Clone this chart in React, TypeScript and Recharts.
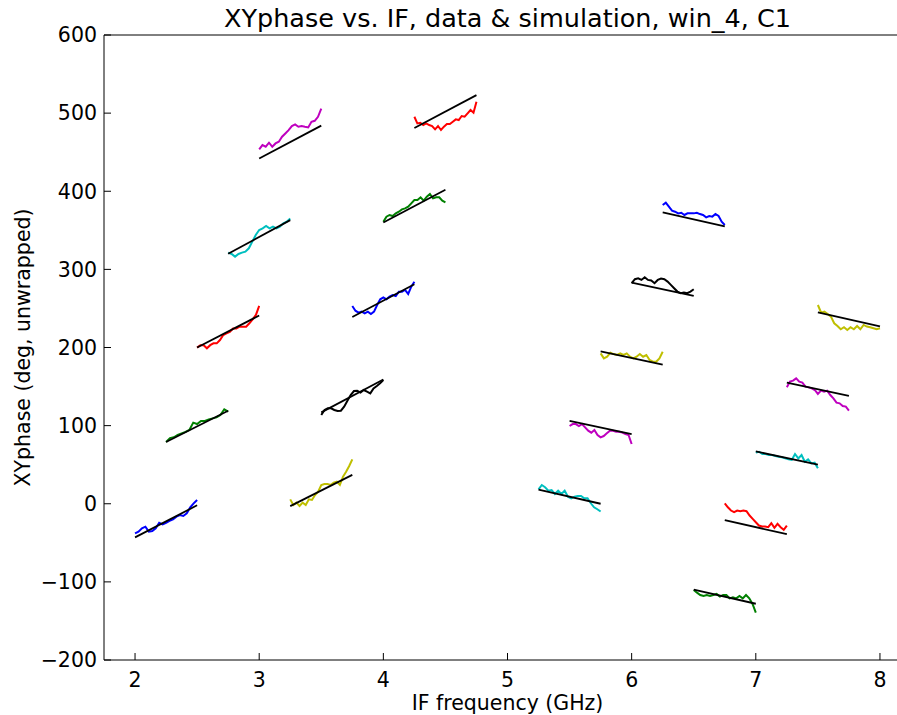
import React from "react";
import { LineChart, Line, XAxis, YAxis, Label } from "recharts";

// each segment spans 0.5 GHz starting here
const segStart = [2.0, 2.25, 2.5, 2.75, 3.0, 3.25, 3.5, 3.75, 4.0, 4.25, 5.25, 5.5, 5.75, 6.0, 6.25, 6.5, 6.75, 7.0, 7.25, 7.5];
const SPAN = 0.5;

// simulation (straight line) end values
const simStart = [-43, 79, 200, 320, 442, -3, 117, 239, 360, 481, 18, 106, 195, 283, 373, -110, -21, 67, 155, 245];
const simEnd = [-2, 119, 241, 363, 484, 37, 159, 281, 402, 523, 0, 89, 178, 266, 355, -128, -39, 50, 138, 227];

// measured XYphase per segment (deg)
const seg01 = [-38, -35.7, -31.5, -29.4, -35.7, -34.9, -31.5, -24.3, -26.4, -24.3, -22, -20, -16.5, -14.4, -15.7, -12.3, -4.6, 0.5, 4.8];
const seg02 = [79, 84, 85, 88, 90, 92, 94.4, 103.8, 102, 106, 106, 108, 109.3, 110.6, 113.6, 120.9, 118];
const seg03 = [199.8, 203, 203, 199, 203, 205.3, 205.3, 209.6, 216, 218, 220, 224.3, 224.3, 226.6, 226.6, 226.6, 231, 236, 241.7, 253.2];
const seg04 = [321.4, 319.7, 316.3, 319.7, 321.4, 322.7, 327, 335.5, 344, 350.4, 352.5, 355.5, 352.5, 354.6, 352.5, 354.6, 358.9, 361, 365.2];
const seg05 = [453.6, 459.1, 457, 462.1, 457, 461.2, 463.4, 469.8, 474, 478.3, 483.4, 485.5, 482.5, 483.4, 482.5, 481.7, 488.9, 490.2, 495.3, 505.9];
const seg06 = [5.6, -1.6, 1.4, -2.9, 1.4, -1.6, 5.6, 4.8, 11.2, 15.4, 24, 25.3, 25.3, 24, 27, 28.3, 24, 34.6, 41, 48.3, 56.8];
const seg07 = [113.6, 120, 122.1, 122.1, 120, 118.7, 119.1, 124.2, 131.9, 139.2, 144.3, 144.7, 142.2, 145.6, 143.5, 141.3, 147.7, 150.7, 154.1, 158.4];
const seg08 = [253.1, 247.1, 244.6, 245.9, 243.7, 245.9, 242.9, 245.9, 254.4, 261.7, 264.2, 261.7, 265.1, 267.2, 265.9, 271.4, 271.4, 273.6, 268.5, 277.8, 284.2];
const seg09 = [361, 367.4, 369.6, 368.3, 371.7, 373.8, 376.8, 378.1, 380.2, 384.5, 388.8, 388.8, 392.2, 387.9, 393, 396.5, 390.9, 392.2, 392.2, 387.9, 385.8];
const seg10 = [495.4, 486.9, 487.7, 484.8, 486.9, 484.8, 483.5, 479.3, 483.5, 478.4, 482.7, 486.1, 486.1, 489, 492, 491.1, 496.3, 495.4, 499.7, 504, 500.6, 514.6];
const seg11 = [18.5, 24, 21.1, 16.8, 17.6, 12.5, 16.8, 12.5, 16.8, 9.1, 7, 9.1, 10, 10, 7, 7, 0.6, -4.5, -7, -10];
const seg12 = [99.5, 102, 102, 99.5, 102, 97.8, 93.5, 91, 94.4, 88, 85, 86.7, 90.1, 93.5, 93.5, 92.2, 92.2, 91, 89.2, 88, 76.5];
const seg13 = [192.5, 186.1, 188.2, 193.3, 191.6, 190.4, 192.5, 190.4, 192.5, 188.2, 186.1, 188.2, 191.6, 188.2, 190.4, 184, 181.8, 181.8, 186.1, 194.6];
const seg14 = [282.3, 287.4, 288.6, 286.5, 289.9, 286.5, 285.7, 282.3, 286.5, 288.2, 287.4, 284.4, 280.2, 275.9, 271.6, 269.5, 270.4, 269.5, 271.6, 274.6];
const seg15 = [382.4, 385.4, 380.2, 375.1, 373.8, 371.7, 372.5, 369.6, 371.7, 371.7, 371.7, 372.5, 370.8, 369.6, 366.6, 368.3, 367.5, 370.8, 368.3, 361, 356.8];
const seg16 = [-110.4, -113.8, -116.8, -118.1, -116.8, -118.1, -116.8, -115.5, -118.9, -116.8, -116.8, -121.1, -119.8, -121.1, -118.1, -121.1, -116.8, -121.1, -128.3, -139.4];
const seg17 = [0.6, -4.5, -8.7, -10.8, -8.7, -9.6, -8.7, -9.6, -15.1, -19.4, -23.6, -27.9, -29.2, -29.2, -30, -24.9, -30.9, -25.8, -30, -33.4, -27.9];
const seg18 = [65.4, 66.6, 63.7, 63.7, 62.4, 62.4, 61.1, 60.2, 59.4, 58.1, 56.8, 56, 63.7, 58.1, 62.4, 53.8, 56.8, 51.7, 52.5, 45.3];
const seg19 = [149, 156.3, 157.6, 160.5, 156.3, 155, 149.9, 149, 147.7, 145.6, 140.5, 144.8, 143.5, 144.8, 139.2, 134.9, 129.4, 128.5, 125.1, 124.3, 119.2];
const seg20 = [254.4, 244.6, 245.9, 242.9, 239.5, 231, 227.6, 223.3, 225.9, 222.5, 225.9, 223.3, 227.6, 223.3, 228.9, 226.8, 225.9, 224.6, 223.3, 224.6];

const measured = [seg01, seg02, seg03, seg04, seg05, seg06, seg07, seg08, seg09, seg10,
  seg11, seg12, seg13, seg14, seg15, seg16, seg17, seg18, seg19, seg20];

// matplotlib classic color cycle
const colors = ["#0000ff", "#008000", "#ff0000", "#00bfbf", "#bf00bf", "#bfbf00", "#000000"];

const xTicks = [2, 3, 4, 5, 6, 7, 8];
const yTicks = [-200, -100, 0, 100, 200, 300, 400, 500, 600];

const FONT = "DejaVu Sans, sans-serif";
const fmtY = (v: number) => (v < 0 ? "\u2212" + Math.abs(v) : String(v));
const tickStyle = { fontSize: 20.5, fill: "#000", fontFamily: FONT };

export default function App() {
  const segments = segStart.map((s, i) => {
    const vals = measured[i];
    const data = vals.map((y, k) => ({ x: s + (SPAN * k) / (vals.length - 1), y }));
    const sim = [
      { x: s, y: simStart[i] },
      { x: s + SPAN, y: simEnd[i] },
    ];
    return { data, sim, color: colors[i % colors.length] };
  });

  return (
    <div style={{ width: 897, height: 715, overflow: "hidden", position: "relative", background: "#fff" }}>
      <style>{`body{margin:0}`}</style>
      <LineChart width={930} height={715} margin={{ top: 0, right: 19, bottom: 0, left: 0 }}>
        <XAxis
          xAxisId="top"
          orientation="top"
          type="number"
          dataKey="x"
          domain={[1.75, 8.25]}
          ticks={xTicks}
          height={35}
          tickSize={-7}
          tick={false}
          stroke="#000"
          axisLine={{ stroke: "#000", strokeWidth: 1 }}
        >
          <Label value="XYphase vs. IF, data & simulation, win_4, C1" position="center" style={{ fontSize: 25.5, fill: "#000", fontFamily: FONT }} />
        </XAxis>
        <XAxis
          type="number"
          dataKey="x"
          domain={[1.75, 8.25]}
          ticks={xTicks}
          height={55}
          tickSize={-7}
          tickMargin={19}
          tick={tickStyle}
          stroke="#000"
          axisLine={{ stroke: "#000", strokeWidth: 1 }}
        >
          <Label value="IF frequency (GHz)" position="insideBottom" offset={5} style={{ fontSize: 20.5, fill: "#000", fontFamily: FONT }} />
        </XAxis>
        <YAxis
          type="number"
          domain={[-200, 600]}
          ticks={yTicks}
          width={104}
          tickSize={-7}
          tickMargin={14}
          tick={tickStyle}
          tickFormatter={fmtY}
          stroke="#000"
          axisLine={{ stroke: "#000", strokeWidth: 1 }}
        >
          <Label
            content={({ viewBox }: any) => {
              const cx = (viewBox?.x ?? 0) + 30;
              const cy = (viewBox?.y ?? 0) + (viewBox?.height ?? 0) / 2;
              return (
                <text
                  x={cx}
                  y={cy}
                  transform={`rotate(-90, ${cx}, ${cy})`}
                  textAnchor="middle"
                  style={{ fontSize: 20.5, fill: "#000", fontFamily: FONT }}
                >
                  XYphase (deg, unwrapped)
                </text>
              );
            }}
          />
        </YAxis>
        {segments.flatMap((seg, i) => [
          <Line
            key={`m${i}`}
            data={seg.data}
            dataKey="y"
            type="linear"
            stroke={seg.color}
            strokeWidth={2}
            dot={false}
            activeDot={false}
            isAnimationActive={false}
          />,
          <Line
            key={`s${i}`}
            data={seg.sim}
            dataKey="y"
            type="linear"
            stroke="#000"
            strokeWidth={1.8}
            dot={false}
            activeDot={false}
            isAnimationActive={false}
          />,
        ])}
      </LineChart>
    </div>
  );
}
